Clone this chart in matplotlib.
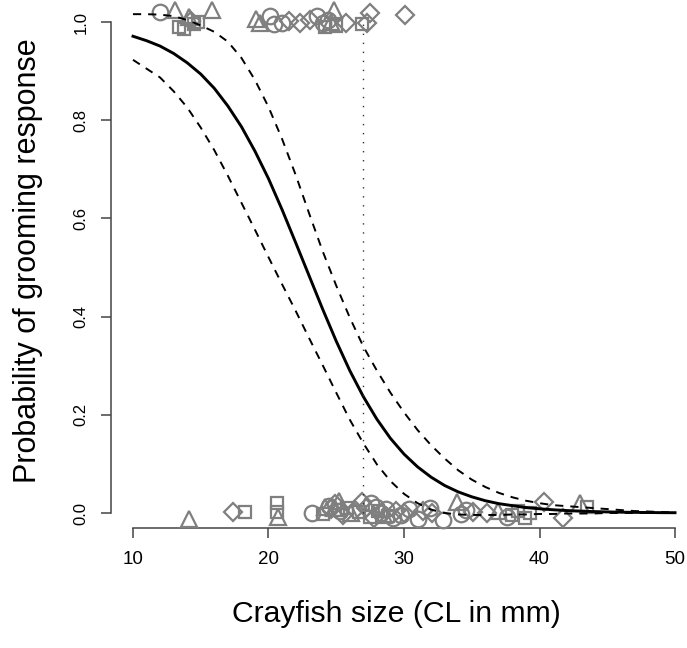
import matplotlib
matplotlib.use("Agg")
import matplotlib.pyplot as plt
import numpy as np

plt.rcParams['font.family'] = ['Liberation Sans', 'DejaVu Sans']

# ---- data ----
x_grid = list(range(10, 51))
fit = [0.971, 0.962, 0.951, 0.936, 0.917, 0.894, 0.865, 0.829, 0.787, 0.737,
       0.681, 0.618, 0.551, 0.483, 0.415, 0.350, 0.290, 0.237, 0.191, 0.152,
       0.120, 0.094, 0.073, 0.056, 0.043, 0.033, 0.025, 0.019, 0.015, 0.011,
       0.0086, 0.0066, 0.0050, 0.0038, 0.0029, 0.0022, 0.0017, 0.0013, 0.0010,
       0.0007, 0.0006]
upper = [1.016, 1.016, 1.015, 1.012, 1.004, 0.993, 0.980, 0.960, 0.927, 0.882,
         0.827, 0.762, 0.689, 0.610, 0.533, 0.463, 0.398, 0.339, 0.290, 0.245,
         0.205, 0.169, 0.138, 0.111, 0.087, 0.068, 0.053, 0.041, 0.032, 0.025,
         0.020, 0.016, 0.014, 0.012, 0.010, 0.008, 0.006, 0.004, 0.003, 0.002,
         0.001]
lower = [0.923, 0.905, 0.887, 0.859, 0.826, 0.785, 0.739, 0.687, 0.632, 0.577,
         0.521, 0.466, 0.412, 0.356, 0.301, 0.245, 0.190, 0.142, 0.099, 0.065,
         0.039, 0.020, 0.007, 0.000, -0.003, -0.004, -0.004, -0.004, -0.003,
         -0.003, -0.002, -0.002, -0.001, -0.001, -0.001, 0.000, 0.000, 0.000,
         0.000, 0.000, 0.000]
threshold_x = 27

# observed responses (jittered around 0 and 1), by marker group
circle_x = [12.0, 20.1, 20.4, 21.0, 23.6, 24.0, 24.4,
            23.2, 24.5, 25.3, 27.9, 28.3, 28.7, 29.2, 30.4, 31.0, 31.9, 32.9,
            34.2, 34.6, 37.6, 27.6, 29.8]
circle_y = [1.020, 1.013, 0.995, 0.997, 1.013, 0.998, 1.005,
            -0.001, 0.015, 0.005, 0.012, 0.000, 0.008, -0.010, 0.008, -0.012,
            0.010, -0.015, -0.003, 0.006, -0.008, 0.020, -0.004]
tri_x = [13.1, 14.1, 15.8, 19.1, 19.4, 24.8, 24.6,
         14.1, 20.7, 24.2, 24.8, 25.2, 26.1, 28.5, 33.9, 36.9, 43.0]
tri_y = [1.024, 1.010, 1.024, 1.007, 0.998, 1.024, 1.000,
         -0.012, -0.008, 0.012, 0.010, 0.025, 0.000, -0.005, 0.022, 0.005,
         0.020]
sq_x = [13.4, 13.8, 14.5, 14.8, 24.2, 25.0, 26.9,
        18.3, 20.6, 20.6, 24.0, 25.1, 26.7, 28.1, 28.8, 38.0, 38.4, 38.9,
        39.3, 43.5, 25.8, 27.5]
sq_y = [0.990, 0.985, 0.995, 1.000, 0.990, 0.992, 0.995,
        0.003, 0.020, 0.003, -0.003, 0.006, 0.002, 0.004, -0.006, -0.005,
        0.004, -0.010, 0.000, 0.012, 0.010, -0.008]
dia_x = [14.3, 21.5, 22.3, 23.1, 25.7, 27.5, 27.3, 30.1,
         17.4, 24.6, 25.5, 26.4, 27.2, 27.8, 29.4, 30.0, 31.4, 32.1, 35.1,
         36.1, 40.3, 41.7, 24.9, 26.9]
dia_y = [1.003, 1.003, 0.997, 1.004, 0.998, 1.018, 0.998, 1.014,
         0.003, 0.008, -0.004, 0.006, 0.010, -0.010, 0.004, 0.000, 0.005,
         0.000, 0.002, 0.000, 0.022, -0.010, 0.018, 0.022]

x_ticks = [10, 20, 30, 40, 50]
y_ticks = [0.0, 0.2, 0.4, 0.6, 0.8, 1.0]

# ---- figure ----
W, H = 687, 648
fig = plt.figure(figsize=(W / 100, H / 100), dpi=100)
ax = fig.add_axes([111.3 / W, 120 / H, 585.4 / W, 521.2 / H])
ax.set_xlim(8.4, 51.6)
ax.set_ylim(-0.03055, 1.031)

gray = '#7f7f7f'
mk = dict(linestyle='none', markerfacecolor='none', markeredgecolor=gray,
          markeredgewidth=1.6, clip_on=False, zorder=3)
ax.plot(circle_x, circle_y, marker='o', markersize=11.2, **mk)
ax.plot(tri_x, tri_y, marker='^', markersize=11.5, **mk)
ax.plot(sq_x, sq_y, marker='s', markersize=9, **mk)
ax.plot(dia_x, dia_y, marker='D', markersize=8.8, **mk)

ax.plot(x_grid, fit, color='black', lw=2.1, zorder=4, clip_on=False)
ax.plot(x_grid, upper, color='black', lw=1.4, linestyle=(0, (4.2, 3.6)),
        zorder=4, clip_on=False)
ax.plot(x_grid, lower, color='black', lw=1.4, linestyle=(0, (4.2, 3.6)),
        zorder=4, clip_on=False)
ax.plot([threshold_x, threshold_x], [0, 1], color='#333333', lw=1.0,
        linestyle=(0, (1, 5.5)), zorder=4)

for s in ['top', 'right']:
    ax.spines[s].set_visible(False)
ax.spines['left'].set_bounds(0, 1)
ax.spines['bottom'].set_bounds(10, 50)
for s in ['left', 'bottom']:
    ax.spines[s].set_color('#444444')
    ax.spines[s].set_linewidth(1.1)

ax.set_xticks(x_ticks)
ax.set_xticklabels([str(v) for v in x_ticks])
ax.set_yticks(y_ticks)
ax.set_yticklabels([f"{v:.1f}" for v in y_ticks], rotation=90, va='center')
ax.tick_params(axis='x', direction='out', length=7.2, width=1.1,
               color='#444444', labelsize=13.5, pad=9)
ax.tick_params(axis='y', direction='out', length=7.2, width=1.1,
               color='#444444', labelsize=12, pad=9)

fig.text(396 / W, 1 - 614 / H, 'Crayfish size (CL in mm)', fontsize=21.7,
         ha='center', va='center')
fig.text(28 / W, 1 - 261 / H, 'Probability of grooming response', fontsize=22,
         ha='center', va='center', rotation=90)

fig.savefig('out.png', dpi=100)
